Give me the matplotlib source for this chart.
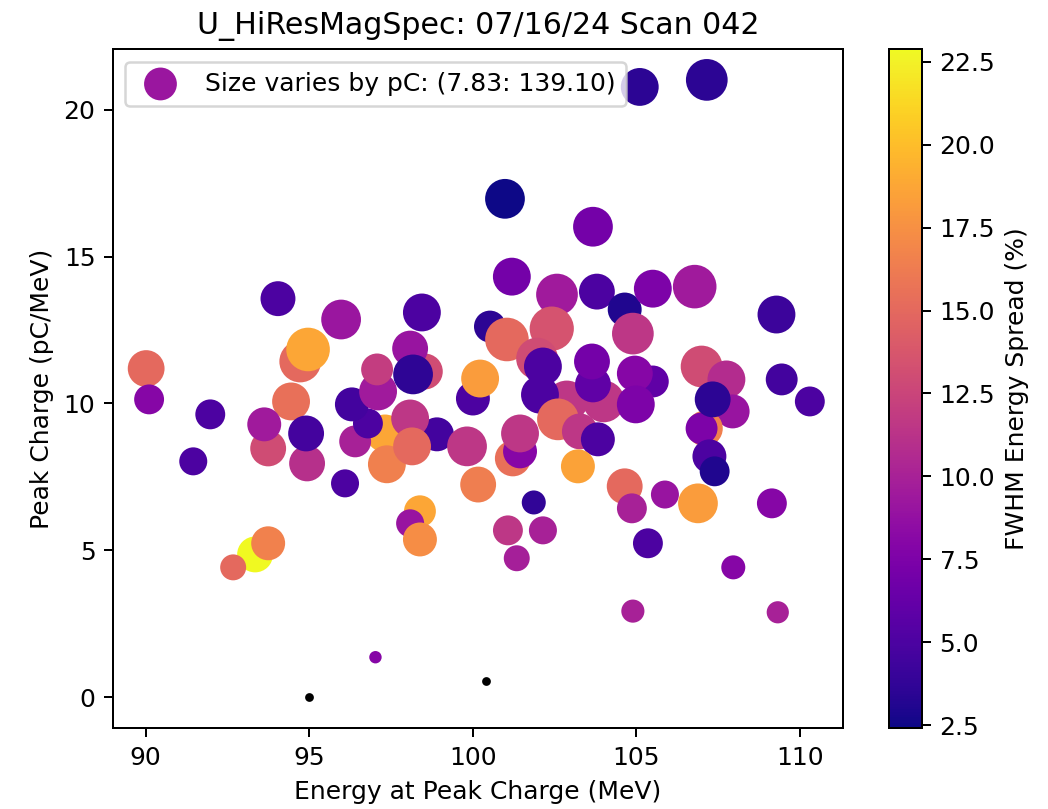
import matplotlib
matplotlib.use("Agg")
import matplotlib.pyplot as plt
from matplotlib.ticker import MultipleLocator
import numpy as np

# Energy at peak charge (MeV)
energy = [95.98, 90.02, 90.11, 91.98, 91.46, 93.35, 92.68, 93.75, 94.05, 94.73,
          94.97, 94.45, 93.75, 93.63, 94.94, 94.91, 96.10, 97.32, 96.41, 96.80,
          96.31, 97.11, 97.08, 97.38, 98.91, 98.09, 98.15, 98.54, 98.09, 98.18,
          98.45, 99.83, 98.39, 98.09, 98.39, 100.01, 100.23, 100.17, 100.53, 101.05,
          101.20, 102.58, 102.42, 101.97, 102.15, 102.88, 102.06, 102.61, 101.23, 101.45,
          101.45, 103.28, 103.83, 103.22, 101.87, 101.08, 102.15, 101.35, 100.99, 103.68,
          103.80, 104.65, 104.90, 105.51, 106.79, 109.29, 104.01, 103.68, 103.65, 105.51,
          104.96, 104.99, 104.65, 104.87, 105.88, 106.89, 105.36, 109.15, 107.97, 107.00,
          107.76, 107.95, 107.10, 107.00, 107.34, 107.24, 107.40, 109.45, 110.31, 105.11,
          107.16, 97.03, 104.90, 109.33]

# Peak charge (pC/MeV)
peak_charge = [12.86, 11.19, 10.14, 9.63, 8.03, 4.86, 4.42, 5.24, 13.57, 11.43,
               11.84, 10.07, 8.47, 9.29, 7.96, 8.98, 7.28, 8.98, 8.71, 9.32,
               9.97, 10.41, 11.16, 7.93, 8.95, 9.49, 8.54, 11.09, 11.87, 10.99,
               13.10, 8.54, 6.33, 5.92, 5.37, 10.17, 10.85, 7.24, 12.62, 12.18,
               14.32, 13.71, 12.55, 11.53, 11.26, 10.07, 10.30, 9.46, 8.13, 8.37,
               8.98, 9.05, 8.78, 7.86, 6.63, 5.68, 5.68, 4.73, 16.97, 16.02,
               13.81, 13.20, 12.38, 13.91, 13.98, 13.03, 10.07, 10.65, 11.43, 10.75,
               11.02, 9.97, 7.18, 6.43, 6.90, 6.60, 5.24, 6.60, 4.42, 11.26,
               10.82, 9.73, 9.15, 9.15, 10.14, 8.20, 7.69, 10.82, 10.07, 20.78,
               21.02, 1.36, 2.93, 2.89]

# FWHM energy spread (%)
fwhm = [9.2, 15.0, 8.0, 5.0, 5.0, 22.89, 15.0, 16.6, 5.0, 15.0,
        18.8, 15.5, 13.0, 9.5, 11.0, 4.6, 5.0, 18.8, 10.0, 5.0,
        4.5, 9.5, 12.0, 16.5, 4.5, 11.5, 15.0, 13.0, 9.0, 3.6,
        5.0, 11.5, 18.8, 9.0, 17.3, 5.0, 18.2, 16.4, 3.5, 15.0,
        7.0, 9.5, 13.5, 13.0, 5.0, 11.5, 5.0, 15.0, 15.5, 8.0,
        11.5, 11.5, 5.0, 18.5, 3.7, 11.5, 10.0, 9.8, 2.41, 7.0,
        5.0, 3.0, 11.5, 7.5, 9.5, 4.2, 11.5, 6.0, 7.0, 6.0,
        8.0, 7.5, 15.0, 10.0, 9.0, 18.2, 5.0, 8.0, 8.0, 13.0,
        10.8, 9.0, 16.5, 7.5, 3.5, 5.0, 3.0, 4.5, 5.0, 3.5,
        3.5, 8.0, 10.0, 10.0]

# Total charge (pC)
charge_pc = [111, 94, 60, 60, 52, 89, 44, 79, 84, 123,
             135, 100, 89, 79, 89, 89, 52, 100, 69, 60,
             79, 100, 69, 100, 79, 100, 100, 89, 89, 111,
             100, 111, 69, 52, 79, 79, 100, 89, 69, 135,
             100, 123, 139.10, 123, 100, 123, 100, 123, 89, 79,
             100, 89, 79, 79, 37, 60, 52, 44, 111, 111,
             89, 79, 123, 100, 135, 100, 123, 89, 89, 69,
             89, 100, 89, 60, 52, 111, 60, 60, 37, 123,
             100, 79, 89, 69, 89, 79, 60, 69, 60, 100,
             123, 7.83, 34, 31]

# Shots with no measurable charge
zero_energy = [95.00, 100.41]
zero_charge = [0.00, 0.54]

title = "U_HiResMagSpec: 07/16/24 Scan 042"

DPI = 180
fig = plt.figure(figsize=(1048 / DPI, 809 / DPI), dpi=DPI)
ax = fig.add_axes([0.1078, 0.1001, 0.6966, 0.8393])
cax = fig.add_axes([0.8483, 0.1001, 0.0315, 0.8393])

pc = np.array(charge_pc)
sc = ax.scatter(energy, peak_charge, c=fwhm, s=pc * 2, cmap="plasma",
                label=f"Size varies by pC: ({pc.min():.2f}: {pc.max():.2f})")
ax.plot(zero_energy, zero_charge, "k.", markersize=5)

ax.xaxis.set_major_locator(MultipleLocator(5))
ax.set_xlabel("Energy at Peak Charge (MeV)")
ax.set_ylabel("Peak Charge (pC/MeV)")
ax.set_title(title)
ax.legend(loc="upper left")

cb = fig.colorbar(sc, cax=cax)
cb.set_label("FWHM Energy Spread (%)")

fig.savefig("out.png", dpi=DPI)
